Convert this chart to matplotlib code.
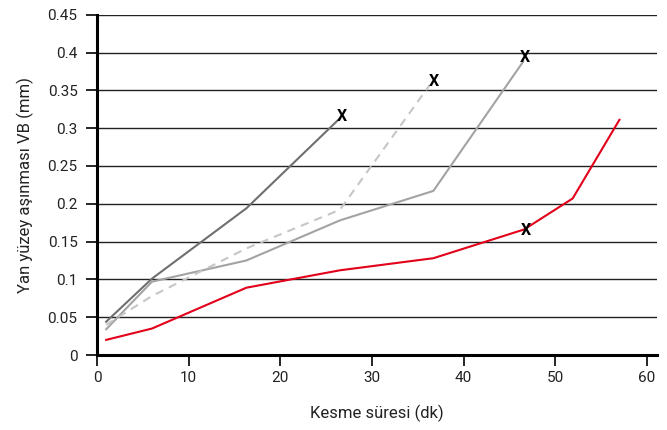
import matplotlib
matplotlib.use("Agg")
import matplotlib.pyplot as plt

plt.rcParams['font.family'] = ['Roboto', 'DejaVu Sans']

# series
x_dark = [1, 6, 16.3, 26.5]
y_dark = [0.044, 0.101, 0.194, 0.313]

x_light = [1, 6, 16.3, 26.5, 36.7, 46.5]
y_light = [0.034, 0.097, 0.125, 0.178, 0.217, 0.388]

x_dash = [1, 6, 16.3, 26.5, 36.3]
y_dash = [0.040, 0.078, 0.141, 0.192, 0.357]

x_red = [1, 6, 16.3, 26.5, 36.7, 46.6, 51.9, 57.0]
y_red = [0.020, 0.035, 0.089, 0.112, 0.128, 0.166, 0.207, 0.311]

# failure marks
x_fail = [26.7, 36.75, 46.7, 46.8]
y_fail = [0.316, 0.362, 0.394, 0.165]

fig = plt.figure(figsize=(6.67, 4.30), dpi=100)
ax = fig.add_axes([0.1454, 0.1744, 0.8396, 0.7914])

ax.plot(x_dark, y_dark, color='#6f6f6f', lw=1.5)
ax.plot(x_light, y_light, color='#a3a3a3', lw=1.5)
ax.plot(x_dash, y_dash, color='#c6c6c6', lw=1.5, ls=(0, (4, 3)))
ax.plot(x_red, y_red, color='#e2001a', lw=1.5)

for xf, yf in zip(x_fail, y_fail):
    ax.text(xf, yf, 'X', fontsize=11.5, fontweight='bold',
            ha='center', va='center', color='black')

ax.set_xlim(0, 61.1)
ax.set_ylim(0, 0.45)
ax.set_xticks(range(0, 61, 10))
ax.set_yticks([i * 0.05 for i in range(10)])
ax.set_yticklabels(['0', '0.05', '0.1', '0.15', '0.2', '0.25', '0.3',
                    '0.35', '0.4', '0.45'])

ax.yaxis.grid(True, color='#222222', lw=1)
ax.set_axisbelow(True)
for s in ['top', 'right']:
    ax.spines[s].set_visible(False)
ax.spines['left'].set_linewidth(2.2)
ax.spines['bottom'].set_linewidth(2.2)
ax.tick_params(axis='both', labelsize=11, color='black', width=1.2,
               length=8, colors='#222222')
ax.tick_params(axis='y', pad=6)

ax.set_xlabel('Kesme süresi (dk)', fontsize=12, labelpad=14, color='#222222')
ax.set_ylabel('Yan yüzey aşınması VB (mm)', fontsize=12, labelpad=10,
              color='#222222')

fig.savefig('out.png', dpi=100)
